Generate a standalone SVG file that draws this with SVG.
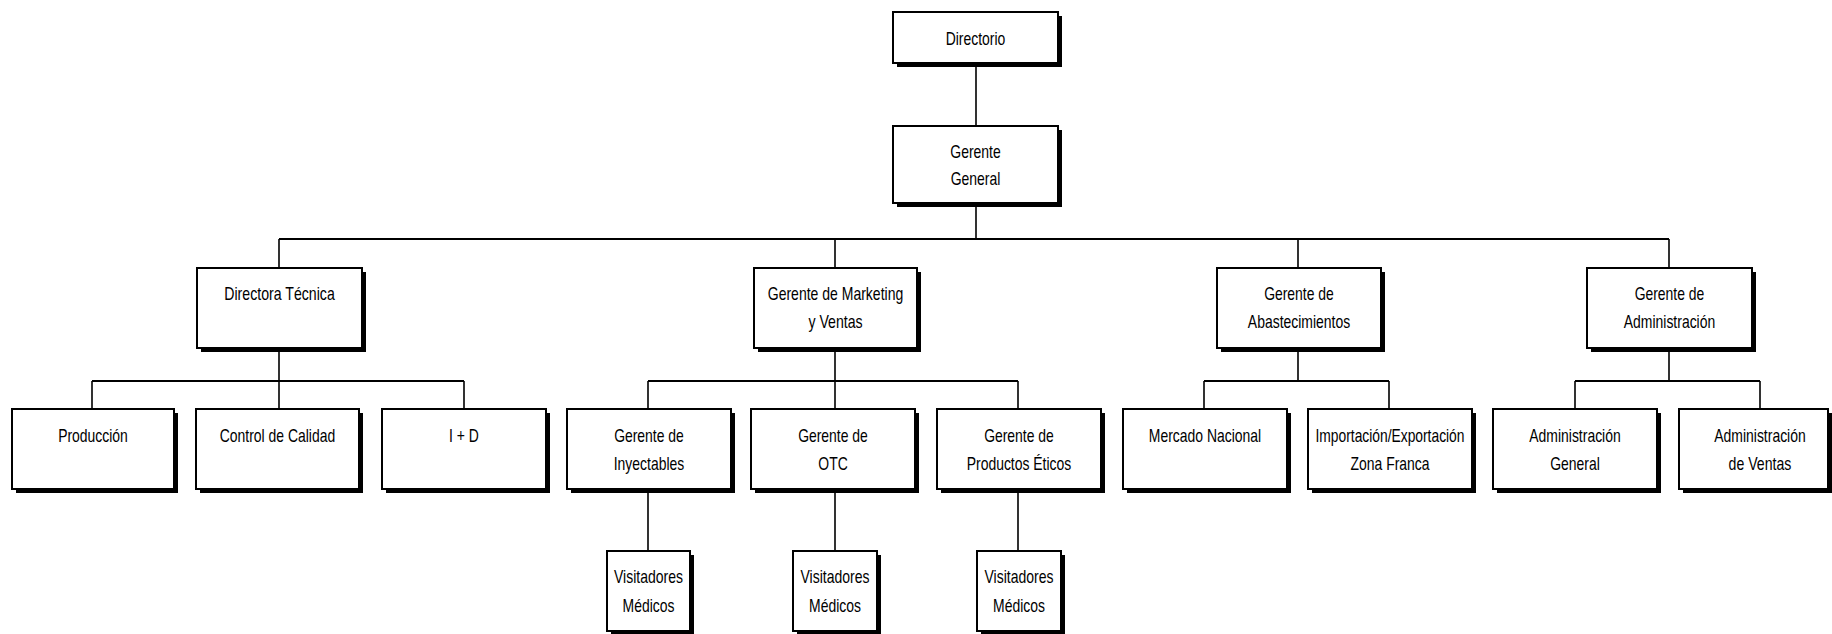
<svg xmlns="http://www.w3.org/2000/svg" width="1832" height="634" viewBox="0 0 1832 634">
<defs>
<style>
.bg{fill:#ffffff}
.sh{fill:#000000}
.bx{fill:#ffffff;stroke:#000000;stroke-width:2}
.t{font-family:"Liberation Sans Narrow","Liberation Sans",Arial,sans-serif;font-size:18.5px;fill:#000000;text-anchor:middle}
.bar{stroke:#000000;stroke-width:2.2;fill:none}
.ln{stroke:#000000;stroke-width:1.6;fill:none}
</style>
</defs>
<rect class="bg" x="0" y="0" width="1832" height="634"/>
<g id="connectors">
<path class="ln" d="M976,63 V126 M976,203 V239"/>
<path class="bar" d="M279,239 H1669"/>
<path class="ln" d="M279,239 V268 M835,239 V268 M1298,239 V268 M1669,239 V268"/>
<path class="ln" d="M279,348 V381 M835,348 V381 M1298,348 V381 M1669,348 V381"/>
<path class="bar" d="M92,381 H464 M648,381 H1018 M1204,381 H1389 M1575,381 H1760"/>
<path class="ln" d="M92,381 V409 M279,381 V409 M464,381 V409 M648,381 V409 M835,381 V409 M1018,381 V409 M1204,381 V409 M1389,381 V409 M1575,381 V409 M1760,381 V409"/>
<path class="ln" d="M648,489 V551 M835,489 V551 M1018,489 V551"/>
</g>
<g id="directorio"><rect class="sh" x="897" y="16" width="165" height="51"/><rect class="bx" x="893" y="12" width="165" height="51"/><text class="t" x="975.5" y="45" textLength="59.6" lengthAdjust="spacingAndGlyphs">Directorio</text></g>
<g id="gerente-general"><rect class="sh" x="897" y="130" width="165" height="77"/><rect class="bx" x="893" y="126" width="165" height="77"/><text class="t" x="975.5" y="158" textLength="50.4" lengthAdjust="spacingAndGlyphs">Gerente</text><text class="t" x="975.5" y="185" textLength="49.6" lengthAdjust="spacingAndGlyphs">General</text></g>
<g id="directora-tecnica"><rect class="sh" x="201" y="272" width="165" height="80"/><rect class="bx" x="197" y="268" width="165" height="80"/><text class="t" x="279.5" y="300" textLength="110.5" lengthAdjust="spacingAndGlyphs">Directora Técnica</text></g>
<g id="gerente-marketing"><rect class="sh" x="758" y="272" width="163" height="80"/><rect class="bx" x="754" y="268" width="163" height="80"/><text class="t" x="835.5" y="300" textLength="135.5" lengthAdjust="spacingAndGlyphs">Gerente de Marketing</text><text class="t" x="835.5" y="328" textLength="54.2" lengthAdjust="spacingAndGlyphs">y Ventas</text></g>
<g id="gerente-abastecimientos"><rect class="sh" x="1221" y="272" width="164" height="80"/><rect class="bx" x="1217" y="268" width="164" height="80"/><text class="t" x="1299" y="300" textLength="69.7" lengthAdjust="spacingAndGlyphs">Gerente de</text><text class="t" x="1299" y="328" textLength="102.3" lengthAdjust="spacingAndGlyphs">Abastecimientos</text></g>
<g id="gerente-administracion"><rect class="sh" x="1591" y="272" width="165" height="80"/><rect class="bx" x="1587" y="268" width="165" height="80"/><text class="t" x="1669.5" y="300" textLength="69.7" lengthAdjust="spacingAndGlyphs">Gerente de</text><text class="t" x="1669.5" y="328" textLength="91.4" lengthAdjust="spacingAndGlyphs">Administración</text></g>
<g id="produccion"><rect class="sh" x="16" y="413" width="162" height="80"/><rect class="bx" x="12" y="409" width="162" height="80"/><text class="t" x="93" y="442" textLength="69.7" lengthAdjust="spacingAndGlyphs">Producción</text></g>
<g id="control-calidad"><rect class="sh" x="200" y="413" width="163" height="80"/><rect class="bx" x="196" y="409" width="163" height="80"/><text class="t" x="277.5" y="442" textLength="115.4" lengthAdjust="spacingAndGlyphs">Control de Calidad</text></g>
<g id="i-d"><rect class="sh" x="386" y="413" width="164" height="80"/><rect class="bx" x="382" y="409" width="164" height="80"/><text class="t" x="464" y="442" textLength="29.8" lengthAdjust="spacingAndGlyphs">I + D</text></g>
<g id="gerente-inyectables"><rect class="sh" x="571" y="413" width="164" height="80"/><rect class="bx" x="567" y="409" width="164" height="80"/><text class="t" x="649" y="442" textLength="69.7" lengthAdjust="spacingAndGlyphs">Gerente de</text><text class="t" x="649" y="470" textLength="70.5" lengthAdjust="spacingAndGlyphs">Inyectables</text></g>
<g id="gerente-otc"><rect class="sh" x="755" y="413" width="164" height="80"/><rect class="bx" x="751" y="409" width="164" height="80"/><text class="t" x="833" y="442" textLength="69.7" lengthAdjust="spacingAndGlyphs">Gerente de</text><text class="t" x="833" y="470" textLength="29.4" lengthAdjust="spacingAndGlyphs">OTC</text></g>
<g id="gerente-eticos"><rect class="sh" x="941" y="413" width="164" height="80"/><rect class="bx" x="937" y="409" width="164" height="80"/><text class="t" x="1019" y="442" textLength="69.7" lengthAdjust="spacingAndGlyphs">Gerente de</text><text class="t" x="1019" y="470" textLength="104.6" lengthAdjust="spacingAndGlyphs">Productos Éticos</text></g>
<g id="mercado-nacional"><rect class="sh" x="1127" y="413" width="164" height="80"/><rect class="bx" x="1123" y="409" width="164" height="80"/><text class="t" x="1205" y="442" textLength="112.3" lengthAdjust="spacingAndGlyphs">Mercado Nacional</text></g>
<g id="importacion-exportacion"><rect class="sh" x="1312" y="413" width="164" height="80"/><rect class="bx" x="1308" y="409" width="164" height="80"/><text class="t" x="1390" y="442" textLength="149" lengthAdjust="spacingAndGlyphs">Importación/Exportación</text><text class="t" x="1390" y="470" textLength="79" lengthAdjust="spacingAndGlyphs">Zona Franca</text></g>
<g id="administracion-general"><rect class="sh" x="1497" y="413" width="164" height="80"/><rect class="bx" x="1493" y="409" width="164" height="80"/><text class="t" x="1575" y="442" textLength="91.4" lengthAdjust="spacingAndGlyphs">Administración</text><text class="t" x="1575" y="470" textLength="49.6" lengthAdjust="spacingAndGlyphs">General</text></g>
<g id="administracion-ventas"><rect class="sh" x="1683" y="413" width="149" height="80"/><rect class="bx" x="1679" y="409" width="149" height="80"/><text class="t" x="1760" y="442" textLength="91.4" lengthAdjust="spacingAndGlyphs">Administración</text><text class="t" x="1760" y="470" textLength="62.8" lengthAdjust="spacingAndGlyphs">de Ventas</text></g>
<g id="visitadores-1"><rect class="sh" x="611" y="555" width="83" height="80"/><rect class="bx" x="607" y="551" width="83" height="80"/><text class="t" x="648.5" y="583" textLength="68.9" lengthAdjust="spacingAndGlyphs">Visitadores</text><text class="t" x="648.5" y="612" textLength="51.9" lengthAdjust="spacingAndGlyphs">Médicos</text></g>
<g id="visitadores-2"><rect class="sh" x="797" y="555" width="84" height="80"/><rect class="bx" x="793" y="551" width="84" height="80"/><text class="t" x="835" y="583" textLength="68.9" lengthAdjust="spacingAndGlyphs">Visitadores</text><text class="t" x="835" y="612" textLength="51.9" lengthAdjust="spacingAndGlyphs">Médicos</text></g>
<g id="visitadores-3"><rect class="sh" x="981" y="555" width="84" height="80"/><rect class="bx" x="977" y="551" width="84" height="80"/><text class="t" x="1019" y="583" textLength="68.9" lengthAdjust="spacingAndGlyphs">Visitadores</text><text class="t" x="1019" y="612" textLength="51.9" lengthAdjust="spacingAndGlyphs">Médicos</text></g>
</svg>
